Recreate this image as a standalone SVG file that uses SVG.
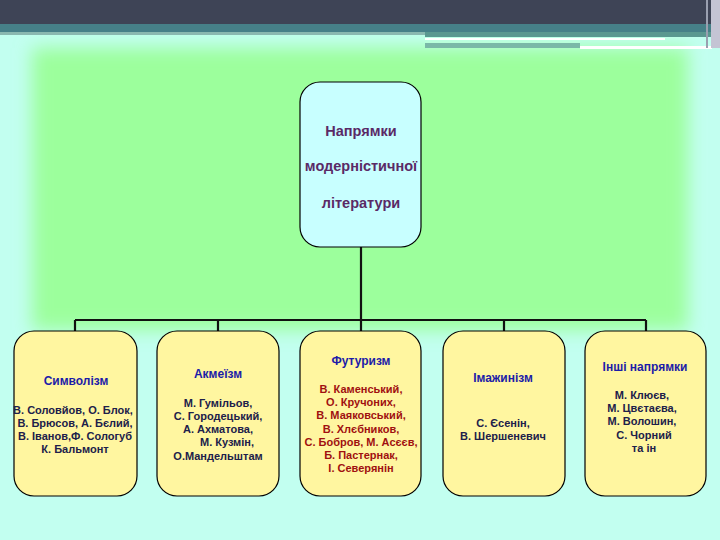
<svg xmlns="http://www.w3.org/2000/svg" width="720" height="540" viewBox="0 0 720 540">
<defs>
<filter id="blur" x="-20%" y="-20%" width="140%" height="140%"><feGaussianBlur stdDeviation="9"/></filter>
<style>
.box{stroke:#000;stroke-width:1.2}
.top{fill:#c8ffff}
.sub{fill:#fff6a0}
text{font-family:"Liberation Sans",Arial,sans-serif;font-weight:bold;text-anchor:middle}
.t{font-size:14.5px;fill:#5a2a66}
.h{font-size:12px;fill:#1c1ca8}
.n{font-size:11px;fill:#20204a}
.r{font-size:11px;fill:#a01010}
.conn{stroke:#111;stroke-width:2.2;fill:none}
</style>
</defs>
<rect width="720" height="540" fill="#c2fff0"/>
<rect x="32" y="48" width="656" height="282" fill="#9cff9c" filter="url(#blur)"/>
<rect x="0" y="0" width="720" height="24" fill="#3e4456"/>
<rect x="0" y="24" width="720" height="8" fill="#468088"/>
<rect x="0" y="32" width="425" height="3" fill="#8ab8b0"/>
<rect x="425" y="32" width="287" height="5" fill="#5a9890"/>
<rect x="425" y="38" width="240" height="2" fill="#ffffff"/>
<rect x="425" y="43" width="155" height="5" fill="#7ab8a8"/>
<rect x="580" y="46" width="132" height="3" fill="#ffffff"/>
<rect x="706" y="0" width="2" height="48" fill="#9aa0b0"/>
<rect x="711" y="0" width="9" height="48" fill="#c4c4d4"/>
<g id="connectors">
<path class="conn" d="M361 247V320M75 320H646M75 320V332M218 320V332M361 320V332M504 320V332M646 320V332"/>
</g>
<g id="root">
<rect class="box top" x="300" y="82" width="121" height="165" rx="20"/>
<text class="t" x="361" y="136">Напрямки</text>
<text class="t" x="361" y="171">модерністичної</text>
<text class="t" x="361" y="208">літератури</text>
</g>
<g id="symbolism">
<rect class="box sub" x="14" y="331" width="123" height="165" rx="20"/>
<text class="h" x="76" y="385">Символізм</text>
<text class="n" x="73" y="414">В. Соловйов, О. Блок,</text>
<text class="n" x="75" y="427">В. Брюсов, А. Бєлий,</text>
<text class="n" x="75" y="440">В. Іванов,Ф. Сологуб</text>
<text class="n" x="75" y="453">К. Бальмонт</text>
</g>
<g id="acmeism">
<rect class="box sub" x="157" y="331" width="122" height="165" rx="20"/>
<text class="h" x="218" y="378">Акмеїзм</text>
<text class="n" x="218" y="407">М. Гумільов,</text>
<text class="n" x="218" y="420">С. Городецький,</text>
<text class="n" x="218" y="433">А. Ахматова,</text>
<text class="n" x="227" y="446">М. Кузмін,</text>
<text class="n" x="218" y="460">О.Мандельштам</text>
</g>
<g id="futurism">
<rect class="box sub" x="300" y="331" width="121" height="165" rx="20"/>
<text class="h" x="361" y="365">Футуризм</text>
<text class="r" x="361" y="393">В. Каменський,</text>
<text class="r" x="361" y="406">О. Кручоних,</text>
<text class="r" x="361" y="419">В. Маяковський,</text>
<text class="r" x="361" y="433">В.  Хлєбников,</text>
<text class="r" x="361" y="446">С. Бобров, М. Асєєв,</text>
<text class="r" x="361" y="459">Б. Пастернак,</text>
<text class="r" x="361" y="472">І. Северянін</text>
</g>
<g id="imagism">
<rect class="box sub" x="443" y="331" width="122" height="165" rx="20"/>
<text class="h" x="503" y="382">Імажинізм</text>
<text class="n" x="503" y="427">С. Єсенін,</text>
<text class="n" x="503" y="440">В. Шершеневич</text>
</g>
<g id="other">
<rect class="box sub" x="585" y="331" width="121" height="165" rx="20"/>
<text class="h" x="645" y="371">Інші напрямки</text>
<text class="n" x="642" y="399">М. Клюєв,</text>
<text class="n" x="642" y="412">М. Цвєтаєва,</text>
<text class="n" x="642" y="425">М. Волошин,</text>
<text class="n" x="644" y="439">С. Чорний</text>
<text class="n" x="644" y="452">та ін</text>
</g>
</svg>
